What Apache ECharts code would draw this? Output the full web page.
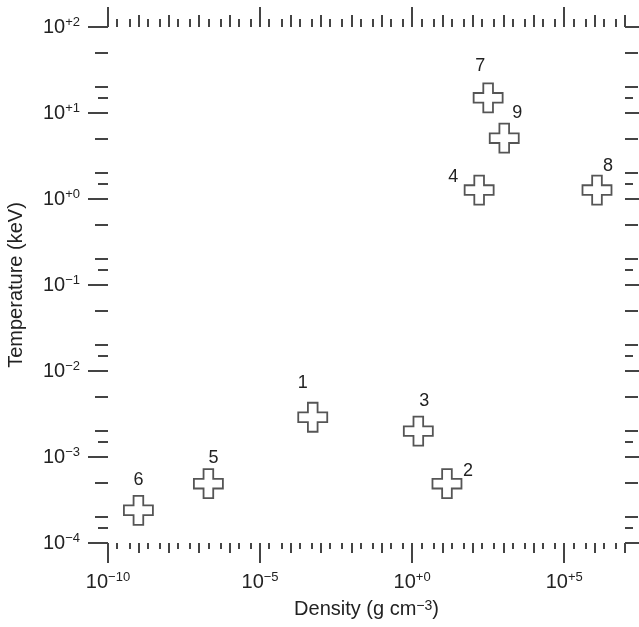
<!DOCTYPE html>
<html>
<head>
<meta charset="utf-8">
<script src="https://cdn.jsdelivr.net/npm/echarts@6/dist/echarts.min.js"></script>
<style>
	html, body { margin: 0; padding: 0; background: #fff; }
	#main { width: 639px; height: 627px; }
</style>
</head>
<body>
<div id="main"></div>
<script>
// 点的编号
var names = ['1', '2', '3', '4', '5', '6', '7', '8', '9'];
// 密度 (g cm^-3)
var density = [5.4e-4, 14, 1.6, 160, 2e-7, 1e-9, 316, 1.2e6, 1.07e3];
// 温度 (keV)
var temperature = [2.9e-3, 4.9e-4, 2.0e-3, 1.27, 4.9e-4, 2.4e-4, 15, 1.27, 5.1];

// 坐标轴范围 (10 的幂)
var xRange = [-10, 7];
var yRange = [-4, 2];
// x 轴上带标签的刻度
var xLabelPowers = [-10, -5, 0, 5];

// 标签相对于点的偏移 (px)
var labelOffsets = [[-10, -34], [21, -13], [6, -30], [-26, -13], [5, -26], [0, -30], [-8, -32], [11, -24], [13, -25]];

var tickColor = '#444';
var textColor = '#222';
var font = 'Liberation Sans, Arial, sans-serif';

function range(a, b) {
	var arr = [];
	for (var i = a; i <= b; i++) arr.push(i);
	return arr;
}

// 每个十进位里的小刻度
function minors(a, b, factors) {
	var arr = [];
	for (var n = a; n < b; n++) {
		factors.forEach(function(f) {
			arr.push(n + Math.log10(f));
		});
	}
	return arr;
}

var xDecades = range(xRange[0], xRange[1]);
var xOther = xDecades.filter(function(v) { return xLabelPowers.indexOf(v) < 0; });
var xMinor = minors(xRange[0], xRange[1], [2, 5]);
var yDecades = range(yRange[0], yRange[1]);
var yMid = minors(yRange[0], yRange[1], [2, 5]);
var yShort = minors(yRange[0], yRange[1], [1.5]);

function powLabel(v) {
	var n = Math.round(v);
	var s = n > 0 ? '+' + n : (n === 0 ? '+0' : '\u2212' + (-n));
	return '{b|10}{s|' + s + '}';
}

var richPow = {
	b: { fontSize: 20, lineHeight: 22, color: textColor, fontFamily: font },
	s: { fontSize: 13, lineHeight: 14, color: textColor, fontFamily: font, verticalAlign: 'top' }
};

function makeAxis(dim, pos, values, len, labelMargin) {
	var r = dim === 'x' ? xRange : yRange;
	var ax = {
		type: 'value',
		position: pos,
		min: r[0],
		max: r[1],
		axisLine: { show: false, onZero: false },
		splitLine: { show: false },
		axisTick: {
			show: true,
			length: len,
			customValues: values,
			lineStyle: { color: tickColor, width: 2 }
		},
		axisLabel: { show: false }
	};
	if (labelMargin) {
		ax.axisLabel = {
			show: true,
			customValues: values,
			margin: labelMargin,
			formatter: powLabel,
			rich: richPow
		};
	}
	return ax;
}

var xAxes = [
	makeAxis('x', 'bottom', xLabelPowers, 20, 28),
	makeAxis('x', 'bottom', xOther, 10),
	makeAxis('x', 'bottom', xMinor, 6),
	makeAxis('x', 'top', xLabelPowers, 20),
	makeAxis('x', 'top', xOther, 12),
	makeAxis('x', 'top', xMinor, 8)
];
xAxes[0].name = 'Density (g cm{s|\u22123})';
xAxes[0].nameLocation = 'middle';
xAxes[0].nameGap = 56;
xAxes[0].nameTextStyle = {
	fontSize: 20, color: textColor, fontFamily: font,
	rich: {
		s: { fontSize: 14, lineHeight: 16, color: textColor, fontFamily: font, verticalAlign: 'top' }
	}
};

var yAxes = [
	makeAxis('y', 'left', yDecades, 20, 28),
	makeAxis('y', 'left', yMid, 13),
	makeAxis('y', 'left', yShort, 10),
	makeAxis('y', 'right', yDecades, 20),
	makeAxis('y', 'right', yMid, 13),
	makeAxis('y', 'right', yShort, 8)
];
yAxes[0].name = 'Temperature (keV)';
yAxes[0].nameLocation = 'middle';
yAxes[0].nameGap = 82;
yAxes[0].nameTextStyle = { fontSize: 20, color: textColor, fontFamily: font };

var points = names.map(function(n, i) {
	return {
		name: n,
		value: [Math.log10(density[i]), Math.log10(temperature[i])],
		label: { offset: labelOffsets[i] }
	};
});

var myChart = echarts.init(document.getElementById('main'), null, { renderer: 'canvas' });

var option = {
	animation: false,
	backgroundColor: '#fff',
	grid: {
		left: 108,
		top: 27,
		width: 517,
		height: 516,
		containLabel: false,
		outerBoundsMode: 'none'
	},
	xAxis: xAxes,
	yAxis: yAxes,
	series: [{
		type: 'scatter',
		xAxisIndex: 0,
		yAxisIndex: 0,
		symbol: 'path://M10,0L20,0L20,10L30,10L30,20L20,20L20,30L10,30L10,20L0,20L0,10L10,10Z',
		symbolSize: 29,
		itemStyle: { color: '#fff', borderColor: '#555', borderWidth: 1.8, opacity: 1 },
		label: {
			show: true,
			position: 'inside',
			formatter: '{b}',
			fontSize: 18,
			color: textColor,
			fontFamily: font
		},
		emphasis: { disabled: true },
		data: points
	}]
};

myChart.setOption(option, true);
</script>
</body>
</html>
